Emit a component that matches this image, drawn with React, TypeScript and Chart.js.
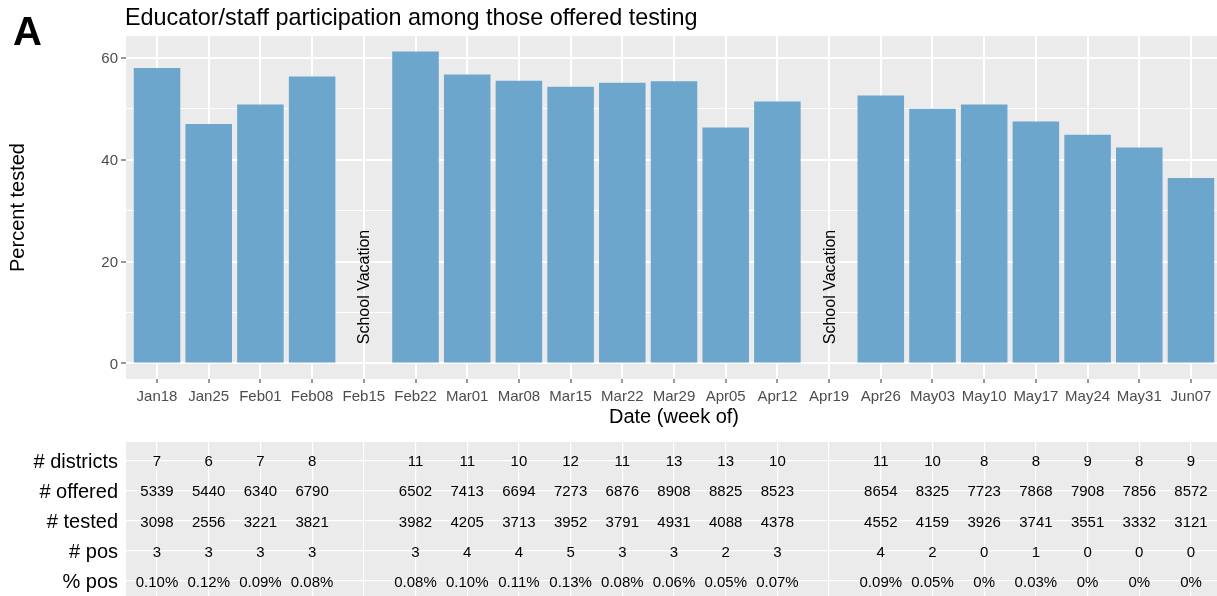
import React, { useEffect, useRef } from 'react';
import { Chart, registerables } from 'chart.js';

Chart.register(...registerables);

// ---------- data ----------
const weeks = [
  'Jan18', 'Jan25', 'Feb01', 'Feb08', 'Feb15', 'Feb22', 'Mar01', 'Mar08', 'Mar15', 'Mar22',
  'Mar29', 'Apr05', 'Apr12', 'Apr19', 'Apr26', 'May03', 'May10', 'May17', 'May24', 'May31', 'Jun07',
];
const percentTested: (number | null)[] = [
  58.0, 47.0, 50.8, 56.3, null, 61.2, 56.7, 55.5, 54.3, 55.1,
  55.4, 46.3, 51.4, null, 52.6, 50.0, 50.8, 47.5, 44.9, 42.4, 36.4,
];
const vacationWeeks = ['Feb15', 'Apr19'];
const vacationLabel = 'School Vacation';
const vacationLabelY = 15;

const rowLabels = ['# districts', '# offered', '# tested', '# pos', '% pos'];
const districts: (number | null)[] = [7, 6, 7, 8, null, 11, 11, 10, 12, 11, 13, 13, 10, null, 11, 10, 8, 8, 9, 8, 9];
const offered: (number | null)[] = [5339, 5440, 6340, 6790, null, 6502, 7413, 6694, 7273, 6876, 8908, 8825, 8523, null, 8654, 8325, 7723, 7868, 7908, 7856, 8572];
const tested: (number | null)[] = [3098, 2556, 3221, 3821, null, 3982, 4205, 3713, 3952, 3791, 4931, 4088, 4378, null, 4552, 4159, 3926, 3741, 3551, 3332, 3121];
const positives: (number | null)[] = [3, 3, 3, 3, null, 3, 4, 4, 5, 3, 3, 2, 3, null, 4, 2, 0, 1, 0, 0, 0];
const percentPositive: (string | null)[] = [
  '0.10%', '0.12%', '0.09%', '0.08%', null, '0.08%', '0.10%', '0.11%', '0.13%', '0.08%',
  '0.06%', '0.05%', '0.07%', null, '0.09%', '0.05%', '0%', '0.03%', '0%', '0%', '0%',
];

const yTicks = [0, 10, 20, 30, 40, 50, 60];
const yLabelTicks = [0, 20, 40, 60];

const chartTitle = 'Educator/staff participation among those offered testing';
const panelTag = 'A';
const xTitle = 'Date (week of)';
const yTitle = 'Percent tested';

// ---------- styles ----------
const FONT = '"Liberation Sans", Arial, Helvetica, sans-serif';
const PANEL = '#EBEBEB';
const BAR = '#6CA6CD';
const TICK_TEXT = '#4D4D4D';
const CANVAS_W = 1230;

const panelBg = {
  id: 'panelBg',
  beforeDraw(chart: any) {
    const { ctx, chartArea } = chart;
    ctx.save();
    ctx.fillStyle = PANEL;
    ctx.fillRect(chartArea.left, chartArea.top, chartArea.right - chartArea.left, chartArea.bottom - chartArea.top);
    ctx.restore();
  },
};

const topAnnotations = {
  id: 'topAnnotations',
  afterDatasetsDraw(chart: any) {
    const { ctx, scales, chartArea } = chart;
    ctx.save();
    // panel tag
    ctx.fillStyle = '#000';
    ctx.font = `bold 40px ${FONT}`;
    ctx.textAlign = 'left';
    ctx.textBaseline = 'alphabetic';
    ctx.fillText(panelTag, 13, 45);
    // title
    ctx.font = `23.4px ${FONT}`;
    ctx.fillText(chartTitle, chartArea.left - 1, 25);
    // vacation labels
    ctx.font = `16px ${FONT}`;
    ctx.textAlign = 'center';
    ctx.textBaseline = 'middle';
    vacationWeeks.forEach((w) => {
      const x = scales.x.getPixelForValue(weeks.indexOf(w));
      const y = scales.y.getPixelForValue(vacationLabelY);
      ctx.save();
      ctx.translate(x + 1, y);
      ctx.rotate(-Math.PI / 2);
      ctx.fillText(vacationLabel, 0, 0);
      ctx.restore();
    });
    ctx.restore();
  },
};

const tableText = {
  id: 'tableText',
  afterDatasetsDraw(chart: any) {
    const { ctx } = chart;
    const meta = chart.getDatasetMeta(0);
    ctx.save();
    ctx.fillStyle = '#000';
    ctx.font = `15px ${FONT}`;
    ctx.textAlign = 'center';
    ctx.textBaseline = 'middle';
    meta.data.forEach((el: any, i: number) => {
      const raw = chart.data.datasets[0].data[i];
      ctx.fillText(raw.label, el.x, el.y + 2);
    });
    ctx.restore();
  },
};

export default function App() {
  const topRef = useRef<HTMLCanvasElement>(null);
  const tableRef = useRef<HTMLCanvasElement>(null);

  useEffect(() => {
    const xMin = -0.6;
    const xMax = weeks.length - 1 + 0.6;
    const weekTicks = (axis: any) => {
      axis.ticks = weeks.map((_, i) => ({ value: i }));
    };

    const barData = weeks
      .map((_, i) => ({ x: i, y: percentTested[i] }))
      .filter((d) => d.y !== null);

    const top = new Chart(topRef.current!, {
      type: 'bar',
      data: {
        datasets: [
          {
            data: barData as any,
            backgroundColor: BAR,
            borderWidth: 0,
            barPercentage: 0.9,
            categoryPercentage: 1,
          },
        ],
      },
      options: {
        responsive: false,
        animation: false,
        layout: { padding: { left: 0, top: 36, right: 8, bottom: 0 } },
        plugins: { legend: { display: false }, tooltip: { enabled: false }, title: { display: false } },
        scales: {
          x: {
            type: 'linear',
            min: xMin,
            max: xMax,
            offset: false,
            afterBuildTicks: weekTicks,
            afterFit: (axis: any) => {
              axis.height = 51;
              axis.paddingLeft = 0;
              axis.paddingRight = 0;
            },
            grid: { color: '#FFFFFF', lineWidth: 2, offset: false, drawTicks: true, tickLength: 4, tickColor: '#333333', tickWidth: 1 },
            border: { display: false },
            ticks: {
              callback: (v: any) => weeks[v] ?? '',
              color: TICK_TEXT,
              font: { family: FONT, size: 15 },
              padding: 5,
              autoSkip: false,
              maxRotation: 0,
              minRotation: 0,
            },
            title: {
              display: true,
              text: xTitle,
              color: '#000',
              font: { family: FONT, size: 20 },
              padding: { top: 0, bottom: 1 },
            },
          } as any,
          y: {
            type: 'linear',
            min: -3.06,
            max: 64.26,
            afterBuildTicks: (axis: any) => {
              axis.ticks = yTicks.map((v) => ({ value: v }));
            },
            afterFit: (axis: any) => {
              axis.width = 126;
              axis.paddingTop = 0;
              axis.paddingBottom = 0;
            },
            grid: {
              color: '#FFFFFF',
              lineWidth: (c: any) => (c.tick && yLabelTicks.includes(c.tick.value) ? 2 : 1),
              drawTicks: true,
              tickLength: 5,
              tickWidth: 1,
              tickColor: (c: any) => (c.tick && yLabelTicks.includes(c.tick.value) ? '#333333' : 'rgba(0,0,0,0)'),
            },
            border: { display: false },
            ticks: {
              callback: (v: any) => (yLabelTicks.includes(v) ? String(v) : ''),
              color: TICK_TEXT,
              font: { family: FONT, size: 15 },
              padding: 3,
              labelOffset: 1,
              autoSkip: false,
            },
            title: {
              display: true,
              text: yTitle,
              color: '#000',
              font: { family: FONT, size: 20 },
              padding: { top: 6, bottom: 0 },
            },
          } as any,
        },
      },
      plugins: [panelBg, topAnnotations],
    });

    const rows = [districts, offered, tested, positives, percentPositive];
    const cells: { x: number; y: number; label: string }[] = [];
    rows.forEach((row, r) => {
      row.forEach((v, i) => {
        if (v !== null) cells.push({ x: i, y: r, label: String(v) });
      });
    });

    const table = new Chart(tableRef.current!, {
      type: 'scatter',
      data: {
        datasets: [
          {
            data: cells as any,
            pointRadius: 0,
            pointHoverRadius: 0,
            showLine: false,
          },
        ],
      },
      options: {
        responsive: false,
        animation: false,
        layout: { padding: { left: 0, top: 12, right: 8, bottom: 1 } },
        plugins: { legend: { display: false }, tooltip: { enabled: false } },
        scales: {
          x: {
            type: 'linear',
            min: xMin,
            max: xMax,
            afterBuildTicks: weekTicks,
            afterFit: (axis: any) => {
              axis.height = 0;
              axis.paddingLeft = 0;
              axis.paddingRight = 0;
            },
            grid: { color: '#FFFFFF', lineWidth: 1.2, drawTicks: false },
            border: { display: false },
            ticks: { display: false },
          } as any,
          y: {
            type: 'linear',
            min: -0.6,
            max: rowLabels.length - 1 + 0.6,
            reverse: true,
            afterBuildTicks: (axis: any) => {
              axis.ticks = rowLabels.map((_, i) => ({ value: i }));
            },
            afterFit: (axis: any) => {
              axis.width = 126;
              axis.paddingTop = 0;
              axis.paddingBottom = 0;
            },
            grid: { color: '#FFFFFF', lineWidth: 1.2, drawTicks: false },
            border: { display: false },
            ticks: {
              callback: (v: any) => rowLabels[v] ?? '',
              color: '#000',
              font: { family: FONT, size: 20 },
              padding: 8,
              labelOffset: 2,
              autoSkip: false,
            },
          } as any,
        },
      },
      plugins: [panelBg, tableText],
    });

    return () => {
      top.destroy();
      table.destroy();
    };
  }, []);

  return (
    <div
      style={{
        position: 'absolute',
        left: 0,
        top: 0,
        width: 1217,
        height: 596,
        overflow: 'hidden',
        background: '#FFFFFF',
      }}
    >
      <canvas ref={topRef} width={CANVAS_W} height={430} style={{ position: 'absolute', left: 0, top: 0 }} />
      <canvas ref={tableRef} width={CANVAS_W} height={170} style={{ position: 'absolute', left: 0, top: 430 }} />
    </div>
  );
}
